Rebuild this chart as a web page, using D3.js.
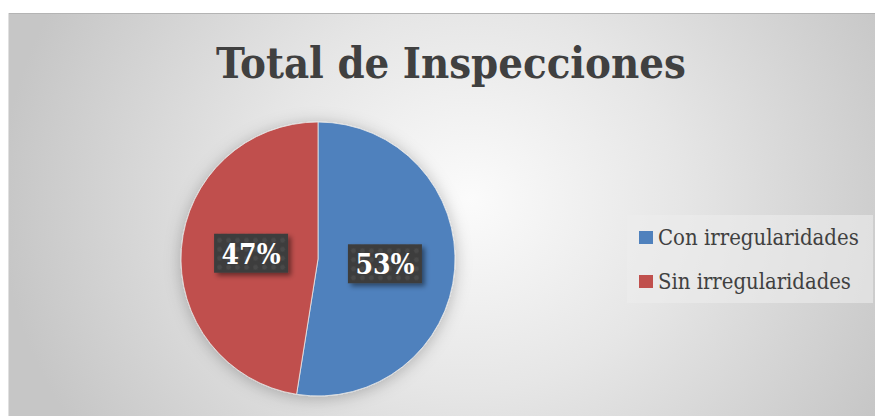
<!DOCTYPE html>
<html>
<head>
<meta charset="utf-8">
<script src="https://cdn.jsdelivr.net/npm/d3@7"></script>
<style>
  body { margin: 0; background: #fff; }
  svg { display: block; }
</style>
</head>
<body>
<script>
// data
var categories = ["Con irregularidades", "Sin irregularidades"];
var values = [52.5, 47.5];
var labels = ["53%", "47%"];
var colors = ["#4F81BD", "#C0504D"];
var title = "Total de Inspecciones";

var W = 875, H = 416;
var svg = d3.select("body").append("svg")
  .attr("width", W).attr("height", H);

var defs = svg.append("defs");

var bg = defs.append("radialGradient").attr("id", "bg")
  .attr("gradientUnits", "userSpaceOnUse")
  .attr("cx", 470).attr("cy", 200).attr("r", 470)
  .attr("gradientTransform", "translate(470,200) scale(1,0.9) translate(-470,-200)");
bg.append("stop").attr("offset", "0").attr("stop-color", "#fbfbfb");
bg.append("stop").attr("offset", "0.45").attr("stop-color", "#e6e6e6");
bg.append("stop").attr("offset", "1").attr("stop-color", "#c6c6c6");

var pat = defs.append("pattern").attr("id", "dots")
  .attr("patternUnits", "userSpaceOnUse")
  .attr("width", 9).attr("height", 9);
pat.append("rect").attr("width", 9).attr("height", 9).attr("fill", "#3e3e3e");
pat.append("circle").attr("cx", 4.5).attr("cy", 4.5).attr("r", 2.2).attr("fill", "#4a4a4a");

var sh = defs.append("filter").attr("id", "shadow")
  .attr("x", "-30%").attr("y", "-30%").attr("width", "160%").attr("height", "160%");
sh.append("feDropShadow").attr("dx", 3).attr("dy", 3).attr("stdDeviation", 2.5)
  .attr("flood-color", "#000").attr("flood-opacity", 0.45);

var pieSh = defs.append("filter").attr("id", "pieShadow")
  .attr("x", "-30%").attr("y", "-30%").attr("width", "160%").attr("height", "160%");
pieSh.append("feDropShadow").attr("dx", 0).attr("dy", 2).attr("stdDeviation", 8)
  .attr("flood-color", "#000").attr("flood-opacity", 0.25);

// chart area
svg.append("rect").attr("x", 8).attr("y", 13).attr("width", W - 8).attr("height", H - 13)
  .attr("fill", "url(#bg)");
svg.append("line").attr("x1", 8).attr("x2", W).attr("y1", 13.5).attr("y2", 13.5)
  .attr("stroke", "#b4b4b4").attr("stroke-width", 1);
svg.append("line").attr("x1", 8.5).attr("x2", 8.5).attr("y1", 13).attr("y2", H)
  .attr("stroke", "#e0e0e0").attr("stroke-width", 1);

// title
var serif = "'DejaVu Serif Condensed', 'Liberation Serif', serif";
var t = svg.append("text")
  .attr("x", 451).attr("y", 78)
  .attr("text-anchor", "middle")
  .attr("font-family", serif)
  .attr("font-weight", "bold")
  .attr("font-size", 46)
  .attr("fill", "#404040")
  .text(title);
var tw = t.node().getComputedTextLength();
t.attr("font-size", 46 * 470 / tw);

// pie
var cx = 318, cy = 259, r = 137;
var pie = d3.pie().sort(null).value(function(d) { return d; });
var arc = d3.arc().innerRadius(0).outerRadius(r);
var arcs = pie(values);

var g = svg.append("g").attr("transform", "translate(" + cx + "," + cy + ")");
g.append("g").attr("filter", "url(#pieShadow)")
  .selectAll("path").data(arcs).enter().append("path")
  .attr("d", arc)
  .attr("fill", function(d, i) { return colors[i]; })
  .attr("stroke", "#e8e8e8").attr("stroke-width", 0.8);

// data labels
var lbl = g.selectAll("g.lbl").data(arcs).enter().append("g").attr("class", "lbl")
  .attr("transform", function(d) {
    var c = d3.arc().innerRadius(0).outerRadius(r * 0.98).centroid(d);
    return "translate(" + c[0] + "," + c[1] + ")";
  });
lbl.append("rect")
  .attr("x", -37).attr("y", -20).attr("width", 74).attr("height", 39)
  .attr("fill", "url(#dots)")
  .attr("filter", "url(#shadow)");
lbl.append("text")
  .attr("text-anchor", "middle")
  .attr("y", 10)
  .attr("font-family", serif)
  .attr("font-weight", "bold")
  .attr("font-size", 28)
  .attr("fill", "#ffffff")
  .text(function(d, i) { return labels[i]; });

// legend
svg.append("rect").attr("x", 627).attr("y", 215).attr("width", 246).attr("height", 88)
  .attr("fill", "#ececec").attr("opacity", 0.6);
var leg = svg.selectAll("g.leg").data(categories).enter().append("g").attr("class", "leg")
  .attr("transform", function(d, i) { return "translate(639," + (231 + i * 44) + ")"; });
leg.append("rect").attr("width", 14).attr("height", 13)
  .attr("fill", function(d, i) { return colors[i]; });
leg.append("text")
  .attr("x", 19).attr("y", 14)
  .attr("font-family", serif)
  .attr("font-size", 21)
  .attr("fill", "#404040")
  .text(function(d) { return d; })
  .each(function() {
    var w = this.getComputedTextLength();
    var target = this.textContent === categories[0] ? 201 : 193;
    d3.select(this).attr("font-size", 21 * target / w);
  });
</script>
</body>
</html>
